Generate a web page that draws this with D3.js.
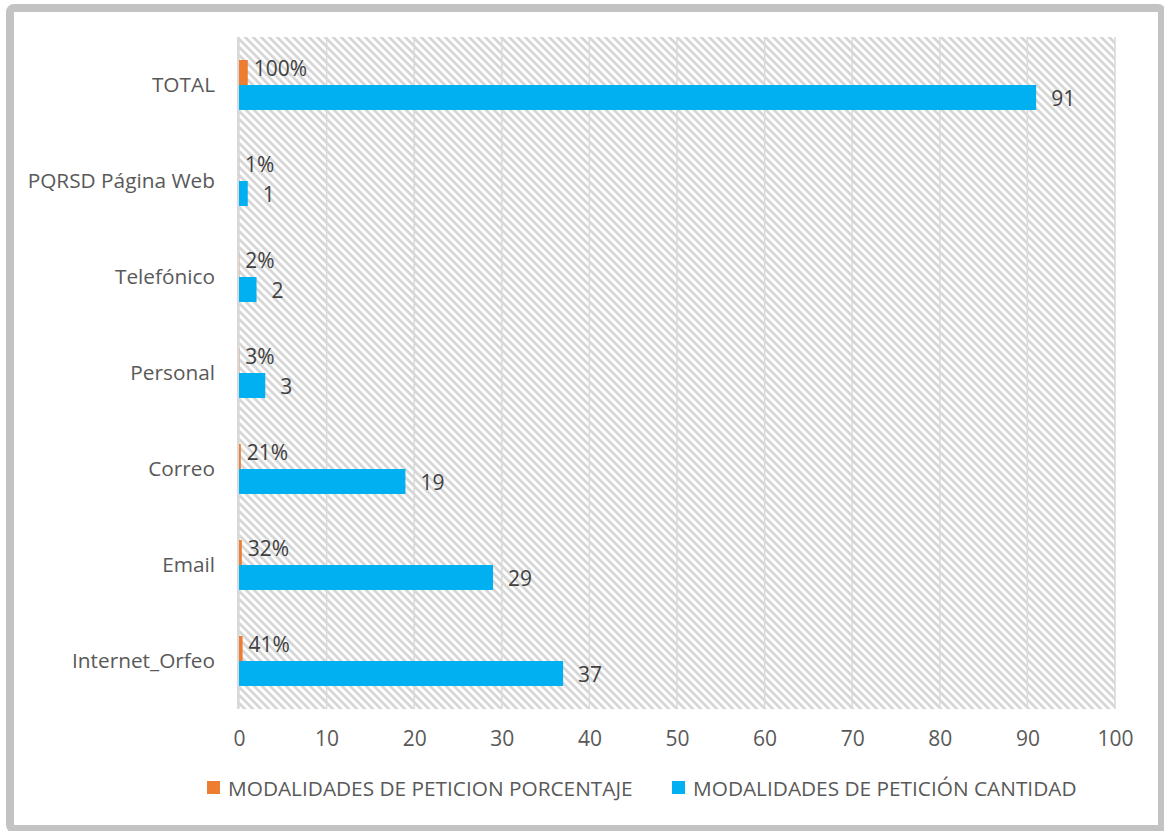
<!DOCTYPE html>
<html>
<head>
<meta charset="utf-8">
<script src="https://cdn.jsdelivr.net/npm/d3@7/dist/d3.min.js"></script>
<style>
  html, body { margin: 0; padding: 0; background: #fff; }
  svg { display: block; }
  text { font-family: "Open Sans", Lato, sans-serif; }
</style>
</head>
<body>
<script>
// Categories, top to bottom
const categories = ["TOTAL", "PQRSD Página Web", "Telefónico", "Personal", "Correo", "Email", "Internet_Orfeo"];
// Share of requests (fraction of total)
const porcentaje = [1.00, 0.01, 0.02, 0.03, 0.21, 0.32, 0.41];
// Number of requests
const cantidad = [91, 1, 2, 3, 19, 29, 37];
const xTicks = [0, 10, 20, 30, 40, 50, 60, 70, 80, 90, 100];
const seriesNames = ["MODALIDADES DE PETICION PORCENTAJE", "MODALIDADES DE PETICIÓN CANTIDAD"];
const seriesKeys = ["pct", "cnt"];
const colors = { pct: "#ED7D31", cnt: "#00B0F0" };

const W = 1164, H = 831;
const FS = 20.8;      // category and legend text
const FS_NUM = 21;    // numbers: ticks and value labels
const svg = d3.select("body").append("svg").attr("width", W).attr("height", H);

// Hatched plot background
const defs = svg.append("defs");
const pat = defs.append("pattern")
  .attr("id", "hatch").attr("patternUnits", "userSpaceOnUse")
  .attr("width", 8).attr("height", 8);
pat.append("rect").attr("width", 8).attr("height", 8).attr("fill", "#fff");
pat.append("path")
  .attr("d", "M-2,-2 L10,10 M-2,6 L2,10 M6,-2 L10,2")
  .attr("stroke", "#d6d6d6").attr("stroke-width", 2.8);

// Outer frame
svg.append("rect")
  .attr("x", 10).attr("y", 8).attr("width", 1152).attr("height", 821)
  .attr("rx", 4).attr("fill", "#fff")
  .attr("stroke", "#c3c3c3").attr("stroke-width", 8);

const plot = { left: 239, right: 1115, top: 37, bottom: 709 };

const x = d3.scaleLinear().domain([0, 100]).range([plot.left, plot.right]);
const y = d3.scaleBand().domain(categories).range([plot.top, plot.bottom]);
const sub = d3.scaleBand().domain(seriesKeys).range([0, y.bandwidth()]).paddingOuter(0.92);

svg.append("rect")
  .attr("x", plot.left - 2).attr("y", plot.top)
  .attr("width", plot.right - plot.left + 2).attr("height", plot.bottom - plot.top)
  .attr("fill", "url(#hatch)");

// Vertical gridlines
svg.append("g").selectAll("line").data(xTicks).join("line")
  .attr("x1", d => x(d)).attr("x2", d => x(d))
  .attr("y1", plot.top).attr("y2", plot.bottom)
  .attr("stroke", "#d9d9d9").attr("stroke-width", 1.5);

// Category axis line
svg.append("line")
  .attr("x1", x(0) - 1).attr("x2", x(0) - 1)
  .attr("y1", plot.top).attr("y2", plot.bottom)
  .attr("stroke", "#d9d9d9").attr("stroke-width", 2);

const rows = categories.map((c, i) => ({ cat: c, pct: porcentaje[i], cnt: cantidad[i] }));

// Bars
const g = svg.append("g");
seriesKeys.forEach(k => {
  g.selectAll("rect." + k).data(rows).join("rect")
    .attr("class", k)
    .attr("x", x(0))
    .attr("y", d => y(d.cat) + sub(k))
    .attr("width", d => x(d[k]) - x(0))
    .attr("height", sub.bandwidth())
    .attr("fill", colors[k]);
});

// Value labels
g.selectAll("text.pct").data(rows).join("text")
  .attr("class", "pct")
  .attr("x", d => x(d.pct) + 6)
  .attr("y", d => y(d.cat) + sub("pct") + sub.bandwidth() / 2 - 4)
  .attr("dy", "0.35em")
  .attr("font-size", FS_NUM).attr("fill", "#404040")
  .text(d => Math.round(d.pct * 100) + "%");

g.selectAll("text.cnt").data(rows).join("text")
  .attr("class", "cnt")
  .attr("x", d => x(d.cnt) + 15)
  .attr("y", d => y(d.cat) + sub("cnt") + sub.bandwidth() / 2 + 1)
  .attr("dy", "0.35em")
  .attr("font-size", FS_NUM).attr("fill", "#404040")
  .text(d => d.cnt);

// Category labels
svg.append("g").selectAll("text").data(categories).join("text")
  .attr("x", 215)
  .attr("y", d => y(d) + y.bandwidth() / 2)
  .attr("dy", "0.35em")
  .attr("text-anchor", "end")
  .attr("font-size", FS).attr("fill", "#595959")
  .text(d => d);

// Value axis
const xAxis = svg.append("g")
  .attr("transform", `translate(0,${plot.bottom})`)
  .call(d3.axisBottom(x).tickValues(xTicks).tickSize(0).tickPadding(22));
xAxis.select(".domain").remove();
xAxis.selectAll("text")
  .attr("font-size", FS_NUM).attr("fill", "#595959")
  .style("font-family", "'Open Sans', Lato, sans-serif");

// Legend
const legend = svg.append("g");
const legendX = [207, 672];
seriesKeys.forEach((k, i) => {
  legend.append("rect")
    .attr("x", legendX[i]).attr("y", 781)
    .attr("width", 13).attr("height", 13)
    .attr("fill", colors[k]);
  legend.append("text")
    .attr("x", legendX[i] + 21).attr("y", 789)
    .attr("dy", "0.35em")
    .attr("font-size", FS).attr("fill", "#595959")
    .text(seriesNames[i]);
});
</script>
</body>
</html>
